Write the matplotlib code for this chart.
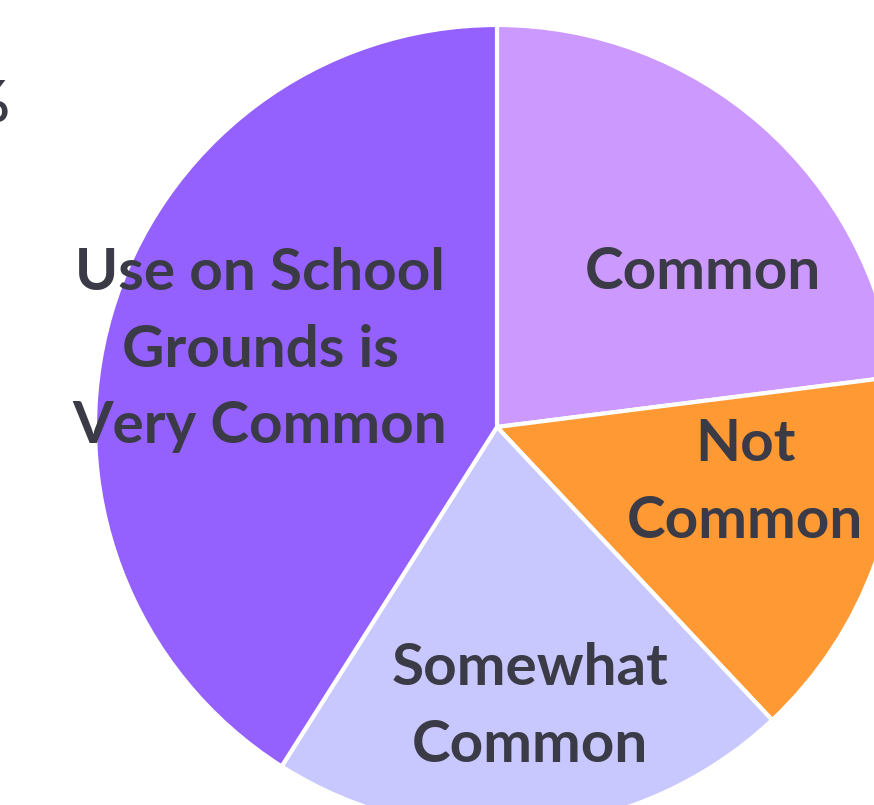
import matplotlib
matplotlib.use('Agg')
from matplotlib import pyplot as plt

labels = ['Common', 'Not\nCommon', 'Somewhat\nCommon', 'Use on School\nGrounds is\nVery Common']
values = [23, 15, 21, 41]
colors = ['#CC99FF', '#FF9933', '#C8C8FF', '#9461FF']

plt.rcParams['font.family'] = ['Lato', 'DejaVu Sans']

fig = plt.figure(figsize=(8.74, 8.05), dpi=100)
# pie centre ~ (497, 427) px, radius ~ 402 px; the pie runs off the right/bottom edge
W, H = 874, 805
cx, cy, r = 497, 427, 402
ax = fig.add_axes([(cx - r) / W, (H - cy - r) / H, 2 * r / W, 2 * r / H])

ax.pie(values, colors=colors, startangle=90, counterclock=False, radius=1,
       wedgeprops=dict(edgecolor='white', linewidth=3))
ax.set_xlim(-1, 1)
ax.set_ylim(-1, 1)
ax.axis('off')

def px(x, y):
    return (x - cx) / r, (cy - y) / r

txt = dict(ha='center', va='center', fontsize=42, fontweight='bold',
           color='#3b3b47', linespacing=1.55)
pos = [(703, 272), (745, 483), (530, 707), (260, 350)]
for lab, (x, y) in zip(labels, pos):
    ax.text(*px(x, y), lab, **txt)

# cut-off label remnant in the top left corner
fig.text(10 / W, 1 - 106 / H, '%', ha='right', va='center', fontsize=42,
         fontweight='bold', color='#3b3b47')

plt.savefig('out.png', dpi=100)
